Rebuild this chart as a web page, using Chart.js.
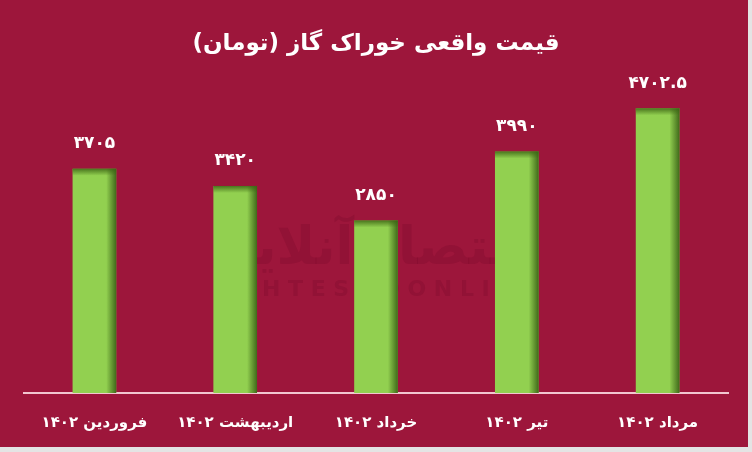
<!DOCTYPE html>
<html>
<head>
<meta charset="utf-8">
<script src="https://cdn.jsdelivr.net/npm/chart.js@4/dist/chart.umd.min.js"></script>
<style>
	html, body { margin: 0; padding: 0; background: #e4e4e4; }
	#wrap { width: 748px; height: 447px; background: #9d163b; }
</style>
</head>
<body>
<div id="wrap"><canvas id="gas-chart" width="748" height="447"></canvas></div>
<script>
const titleText = 'قیمت واقعی خوراک گاز (تومان)'
const months    = ['فروردین ۱۴۰۲', 'اردیبهشت ۱۴۰۲', 'خرداد ۱۴۰۲', 'تیر ۱۴۰۲', 'مرداد ۱۴۰۲']
const prices    = [3705, 3420, 2850, 3990, 4702.5]

const faDigits = (n) => String(n).replace(/[0-9]/g, d => '۰۱۲۳۴۵۶۷۸۹'[d])

const fontFa = "'DejaVu Sans', sans-serif"

// inner shading on bars + value labels + faint watermark
const barExtras = {
	id: 'barExtras',
	beforeDatasetsDraw(chart) {
		const ctx = chart.ctx
		ctx.save()
		ctx.fillStyle = 'rgba(110, 5, 35, 0.22)'
		ctx.textAlign = 'center'
		ctx.textBaseline = 'middle'
		ctx.font = 'bold 52px ' + fontFa
		ctx.fillText('اقتصاد آنلاین', 376, 250)
		ctx.font = 'bold 22px ' + fontFa
		ctx.fillText('E G H T E S A D O N L I N E', 376, 290)
		ctx.restore()
	},
	afterDatasetsDraw(chart) {
		const ctx = chart.ctx
		const meta = chart.getDatasetMeta(0)
		ctx.save()
		meta.data.forEach((bar) => {
			const right = bar.x + bar.width / 2
			const left = bar.x - bar.width / 2
			const h = bar.base - bar.y
			// right edge
			let g = ctx.createLinearGradient(right - 10, 0, right, 0)
			g.addColorStop(0, 'rgba(55, 95, 20, 0)')
			g.addColorStop(1, 'rgba(55, 95, 20, 0.9)')
			ctx.fillStyle = g
			ctx.fillRect(right - 10, bar.y, 10, h)
			// top edge
			g = ctx.createLinearGradient(0, bar.y, 0, bar.y + 7)
			g.addColorStop(0, 'rgba(60, 100, 20, 0.85)')
			g.addColorStop(1, 'rgba(60, 100, 20, 0)')
			ctx.fillStyle = g
			ctx.fillRect(left, bar.y, bar.width, 7)
		})
		ctx.fillStyle = '#ffffff'
		ctx.font = 'bold 17px ' + fontFa
		ctx.textAlign = 'center'
		ctx.textBaseline = 'middle'
		meta.data.forEach((bar, i) => {
			ctx.fillText(faDigits(prices[i]), bar.x, bar.y - 25)
		})
		ctx.restore()
	}
}

new Chart(document.getElementById('gas-chart'), {
	type: 'bar',
	data: {
		labels: months,
		datasets: [{
			data: prices,
			backgroundColor: '#92d050',
			borderWidth: 0,
			barPercentage: 0.31,
			categoryPercentage: 1
		}]
	},
	options: {
		responsive: false,
		animation: false,
		events: [],
		layout: { padding: { left: 24, right: 20, top: 0, bottom: 2 } },
		plugins: {
			legend: { display: false },
			tooltip: { enabled: false },
			title: {
				display: true,
				text: titleText,
				color: '#ffffff',
				font: { family: fontFa, size: 23, weight: 'bold' },
				padding: { top: 30, bottom: 46 }
			}
		},
		scales: {
			x: {
				grid: { display: false },
				border: { display: true, color: '#f2c6d0', width: 2 },
				ticks: {
					color: '#ffffff',
					padding: 13,
					font: { family: fontFa, size: 15, weight: 'bold' }
				}
			},
			y: {
				display: false,
				min: 0,
				max: 4780
			}
		}
	},
	plugins: [barExtras]
})
</script>
</body>
</html>
